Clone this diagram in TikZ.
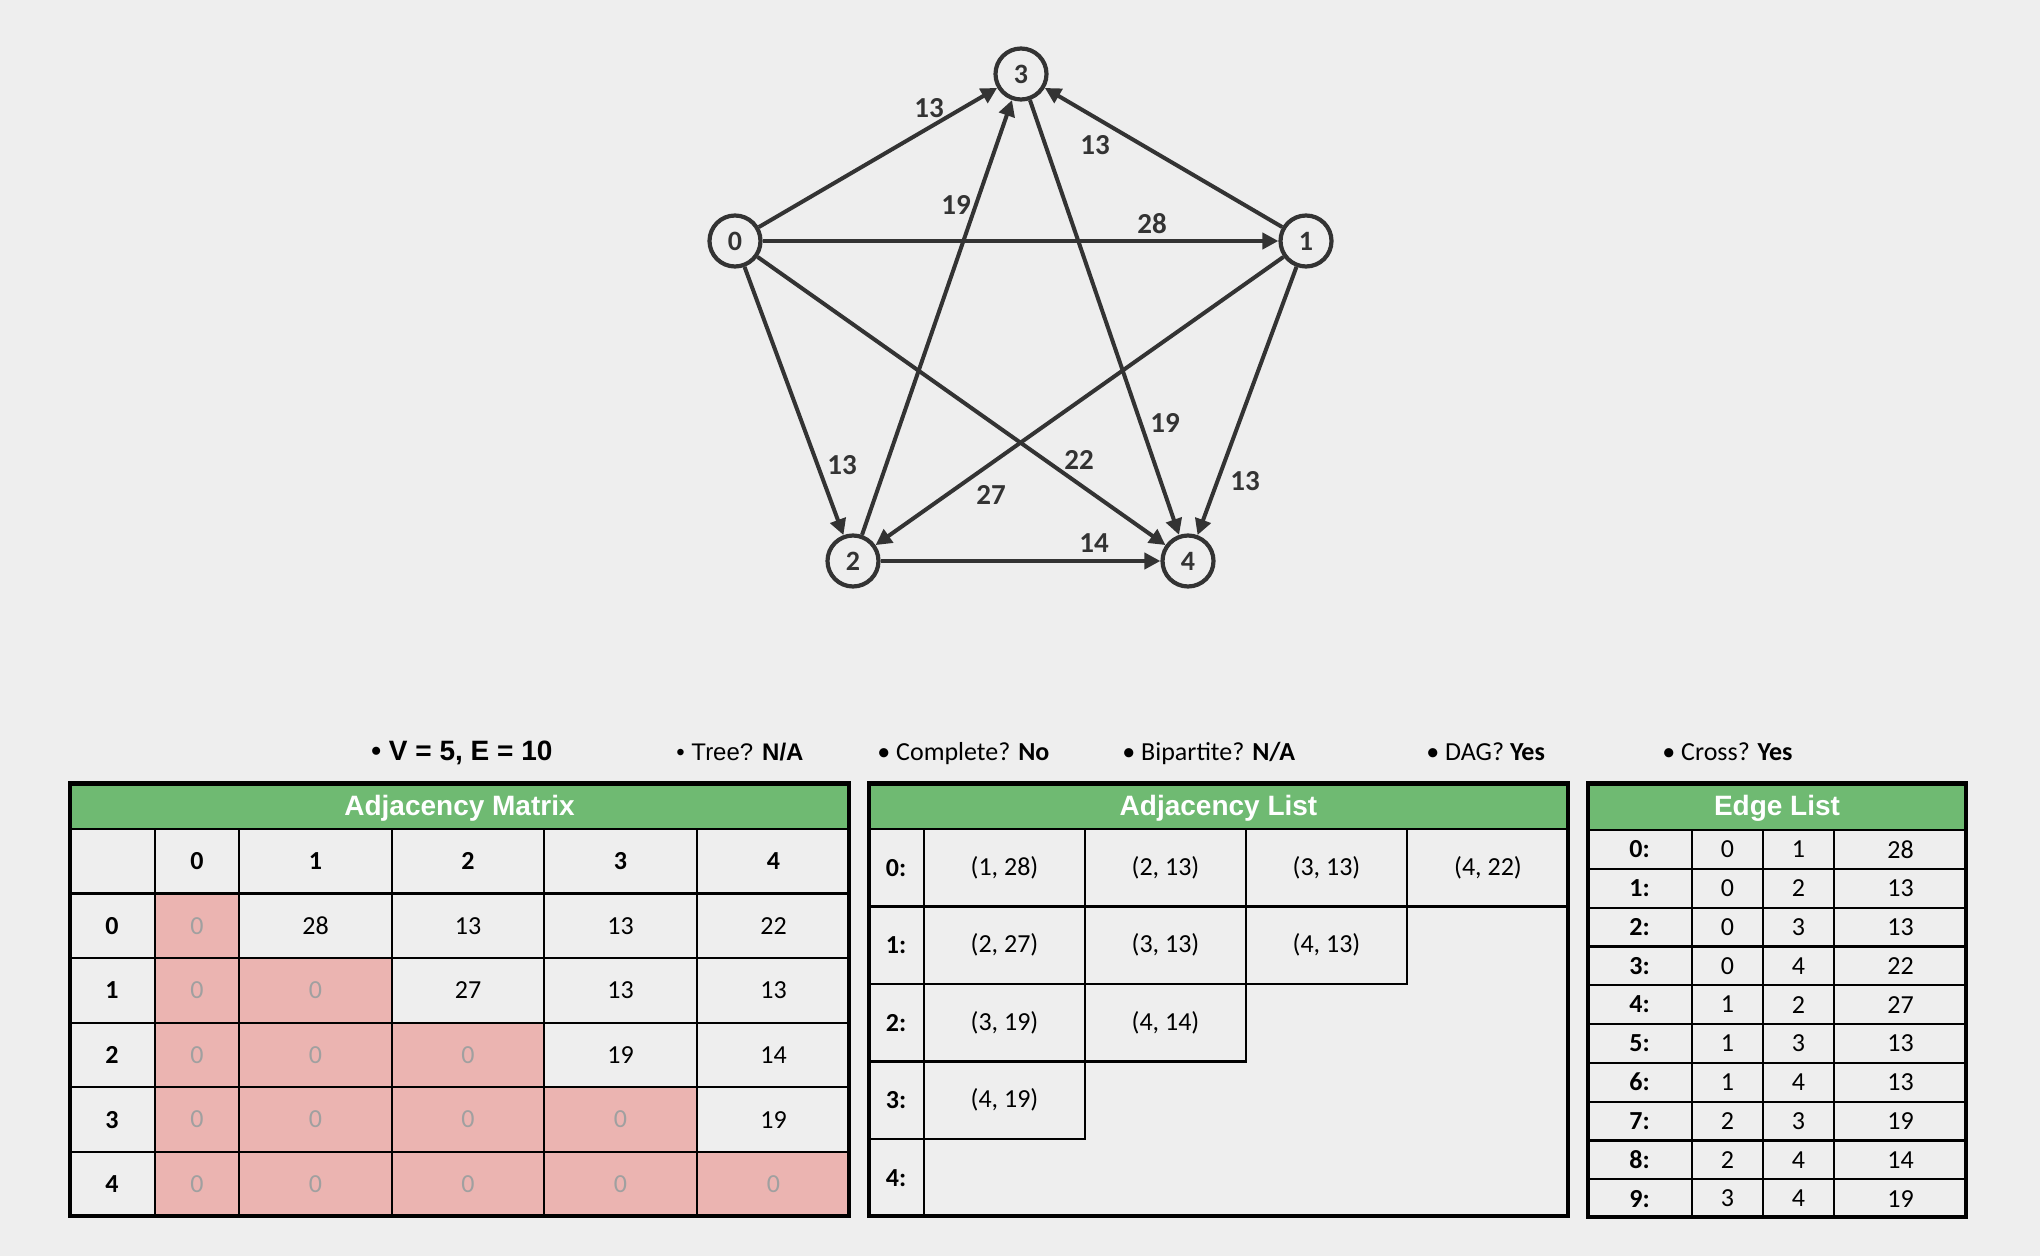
\documentclass[tikz,border=0pt]{standalone}
\usepackage{fontspec}
\setmainfont{Carlito}
\newfontfamily\arialf{Liberation Sans}
\usetikzlibrary{arrows.meta}
\definecolor{bg}{HTML}{EEEEEE}
\definecolor{ink}{HTML}{333333}
\definecolor{hdr}{HTML}{6FBA72}
\definecolor{pinkc}{HTML}{EBB4B1}
\definecolor{zgray}{HTML}{A0A0A0}
\begin{document}
\begin{tikzpicture}[x=0.5pt,y=-0.5pt,
  gnode/.style={circle, draw=ink, line width=2.1pt, minimum size=25.5pt, inner sep=0pt,
    font=\fontsize{14pt}{15pt}\selectfont\bfseries, text=ink, fill=bg},
  edge/.style={draw=ink, line width=2pt, -{Triangle[length=8pt,width=8pt]}},
  elabel/.style={font=\fontsize{14.5pt}{15pt}\selectfont\bfseries, text=ink, inner sep=0pt},
  stat/.style={anchor=base west, inner sep=0pt, font=\fontsize{13pt}{14pt}\selectfont},
  cell/.style={inner sep=0pt, font=\fontsize{13pt}{14pt}\selectfont},
  bcell/.style={inner sep=0pt, font=\fontsize{13pt}{14pt}\selectfont\bfseries},
  ttl/.style={inner sep=0pt, text=white, font=\arialf\fontsize{14pt}{15pt}\selectfont\bfseries},
  grid/.style={line width=1.1pt, draw=black},
  frame/.style={line width=2.2pt, draw=black}]
\fill[bg] (0,0) rectangle (2040,1256);
\useasboundingbox (0,0) rectangle (2040,1256);

% ---------- graph ----------
\node[gnode] (n0) at (735,241) {0};
\node[gnode] (n1) at (1306,241) {1};
\node[gnode] (n2) at (853,561) {2};
\node[gnode] (n3) at (1021,74) {3};
\node[gnode] (n4) at (1188,561) {4};
\foreach \a/\b in {0/3,0/1,0/2,0/4,1/3,1/2,1/4,2/3,2/4,3/4}
  \draw[edge] (n\a) -- (n\b);
\node[elabel] (l03) at (929,108) {13};
\node[elabel] (l01) at (1152,224) {28};
\node[elabel] (l02) at (842,465) {13};
\node[elabel] (l04) at (1079,460) {22};
\node[elabel] (l23) at (956,205) {19};
\node[elabel] (l13) at (1095,145) {13};
\node[elabel] (l34) at (1165,423) {19};
\node[elabel] (l12) at (991,495) {27};
\node[elabel] (l14) at (1245,481) {13};
\node[elabel] (l24) at (1094,543) {14};

% ---------- stats ----------
\node[stat, font=\arialf\fontsize{14pt}{15pt}\selectfont\bfseries] (s1) at (371,760) {• V = 5, E = 10};
\node[stat, font=\arialf\fontsize{12pt}{13pt}\selectfont] (s2) at (676,760) {• Tree? \textbf{N/A}};
\node[stat] (s3) at (877,760) {• Complete? \textbf{No}};
\node[stat] (s4) at (1122,760) {• Bipartite? \textbf{N/A}};
\node[stat] (s5) at (1426,760) {• DAG? \textbf{Yes}};
\node[stat] (s6) at (1662,760) {• Cross? \textbf{Yes}};

% ---------- adjacency matrix ----------
\fill[hdr] (69,782) rectangle (850,829);
\foreach \c in {0,...,4}{
  \foreach \r in {\c,...,4}{
    \pgfmathsetmacro\xl{{155,239,392,544,697,850}[\c]}
    \pgfmathsetmacro\xr{{155,239,392,544,697,850}[\c+1]}
    \pgfmathsetmacro\yt{893.5+64.6*\r}
    \fill[pinkc] (\xl,\yt) rectangle (\xr,\yt+64.6);
  }
}
\foreach \x in {155,239,392,544,697} \draw[grid] (\x,829) -- (\x,1216);
\foreach \y in {829,893.5,958.1,1022.7,1087.3,1151.9} \draw[grid] (69,\y) -- (850,\y);
\draw[frame] (70,783.5) rectangle (849,1216);
\node[ttl] (mt) at (459.5,808) {Adjacency Matrix};
\foreach \h [count=\c from 0] in {0,1,2,3,4}{
  \pgfmathsetmacro\xc{{197,315.5,468,620.5,773.5}[\c]}
  \node[bcell] (mh-\c) at (\xc,861.2) {\h};
}
\foreach \r/\vals in {0/{0,28,13,13,22},1/{0,0,27,13,13},2/{0,0,0,19,14},3/{0,0,0,0,19},4/{0,0,0,0,0}}{
  \pgfmathsetmacro\yc{925.8+64.6*\r}
  \node[bcell] (mr-\r) at (112,\yc) {\r};
  \foreach \v [count=\c from 0] in \vals {
    \pgfmathsetmacro\xc{{197,315.5,468,620.5,773.5}[\c]}
    \ifnum\c>\r \def\tc{black}\else\def\tc{zgray}\fi
    \node[cell, text=\tc] (m-\r-\c) at (\xc,\yc) {\v};
  }
}

% ---------- adjacency list ----------
\fill[hdr] (868,782) rectangle (1569,829);
\draw[grid] (868,829) -- (1569,829);
\foreach \r in {0,...,4}{
  \pgfmathsetmacro\yt{829+77.5*\r}
  \draw[grid] (868,\yt) rectangle (924,\yt+77.5);
  \node[bcell] (al-\r) at (896,\yt+38.75) {\r:};
}
\foreach \r/\lst in {0/{1/28,2/13,3/13,4/22},1/{2/27,3/13,4/13},2/{3/19,4/14},3/{4/19}}{
  \pgfmathsetmacro\yt{829+77.5*\r}
  \foreach \d/\w [count=\c from 0] in \lst {
    \pgfmathsetmacro\xl{{924,1085,1246,1407,1569}[\c]}
    \pgfmathsetmacro\xr{{924,1085,1246,1407,1569}[\c+1]}
    \draw[grid] (\xl,\yt) rectangle (\xr,\yt+77.5);
    \node[cell] (a-\r-\c) at ({(\xl+\xr)/2},\yt+38.75) {(\d, \w)};
  }
}
\draw[frame] (869,783.5) rectangle (1568,1216);
\node[ttl] (lt) at (1218.5,808) {Adjacency List};

% ---------- edge list ----------
\fill[hdr] (1587,782) rectangle (1967,830);
\foreach \i in {0,...,9} \draw[grid] (1587,830+38.8*\i) -- (1967,830+38.8*\i);
\foreach \x in {1692,1763,1834} \draw[grid] (\x,830) -- (\x,1218);
\draw[frame] (1588,783.5) rectangle (1966,1217);
\node[ttl] (et) at (1777,808) {Edge List};
\foreach \s/\d/\w [count=\i from 0] in {0/1/28,0/2/13,0/3/13,0/4/22,1/2/27,1/3/13,1/4/13,2/3/19,2/4/14,3/4/19}{
  \pgfmathsetmacro\yc{830+38.8*\i+19.4}
  \node[bcell] (e-\i) at (1639.5,\yc) {\i:};
  \node[cell] (es-\i) at (1727.5,\yc) {\s};
  \node[cell] (ed-\i) at (1798.5,\yc) {\d};
  \node[cell] (ew-\i) at (1900.5,\yc) {\w};
}
\end{tikzpicture}
\end{document}
